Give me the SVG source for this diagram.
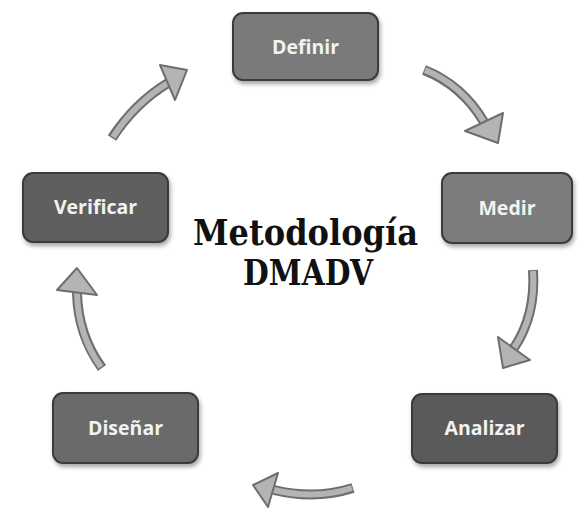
<svg xmlns="http://www.w3.org/2000/svg" width="579" height="508" viewBox="0 0 579 508">
  <defs>
    <filter id="shadow" x="-10%" y="-10%" width="125%" height="140%">
      <feDropShadow dx="1.5" dy="3" stdDeviation="2" flood-color="#000" flood-opacity="0.35"/>
    </filter>
  </defs>
  <style>
    .box { stroke: #3a3a3a; stroke-width: 2; filter: url(#shadow); }
    .label { font-family: "Open Sans", "Liberation Sans", sans-serif; font-weight: 700; font-size: 19.5px; fill: #f2f2f2; text-anchor: middle; }
    .title { font-family: "DejaVu Serif", "Liberation Serif", serif; font-weight: 700; font-size: 35px; fill: #111; text-anchor: middle; }
    .shaft-outline { fill: none; stroke: #6e6e6e; stroke-width: 10; stroke-linecap: butt; }
    .shaft { fill: none; stroke: #b4b4b4; stroke-width: 6; stroke-linecap: butt; }
    .head { fill: #b4b4b4; stroke: #6e6e6e; stroke-width: 2; stroke-linejoin: round; }
  </style>
  <rect width="579" height="508" fill="#ffffff"/>

  <!-- connectors: curved block arrows running clockwise -->
  <g id="connectors">
    <g id="definir-medir">
      <path class="shaft-outline" d="M424,70 Q462,85 484,122"/>
      <path class="shaft" d="M425,70 Q462,85 484,122"/>
      <polygon class="head" points="465,131 503,113 498,143"/>
    </g>
    <g id="medir-analizar">
      <path class="shaft-outline" d="M533,270 Q536,315 514,348"/>
      <path class="shaft" d="M533,271 Q536,315 514,348"/>
      <polygon class="head" points="498,337 530,360 503,368"/>
    </g>
    <g id="analizar-disenar">
      <path class="shaft-outline" d="M353,488 Q315,500 274,490"/>
      <path class="shaft" d="M352,488 Q315,500 274,490"/>
      <polygon class="head" points="278,473 268,507 253,485"/>
    </g>
    <g id="disenar-verificar">
      <path class="shaft-outline" d="M102,368 Q78,335 77,293"/>
      <path class="shaft" d="M101,367 Q78,335 77,293"/>
      <polygon class="head" points="57,290 97,295 77,268"/>
    </g>
    <g id="verificar-definir">
      <path class="shaft-outline" d="M112,138 Q135,103 168,83"/>
      <path class="shaft" d="M113,137 Q135,103 168,83"/>
      <polygon class="head" points="160,65 175,100 187,70"/>
    </g>
  </g>

  <g id="definir">
    <rect class="box" x="233" y="13" width="145" height="67" rx="10" fill="#7a7a7a"/>
    <text class="label" x="305.5" y="54">Definir</text>
  </g>
  <g id="medir">
    <rect class="box" x="442" y="173" width="130" height="70" rx="10" fill="#7c7c7c"/>
    <text class="label" x="507" y="215">Medir</text>
  </g>
  <g id="analizar">
    <rect class="box" x="412" y="394" width="145" height="69" rx="10" fill="#5a5a5a"/>
    <text class="label" x="484.5" y="435">Analizar</text>
  </g>
  <g id="disenar">
    <rect class="box" x="53" y="393" width="145" height="70" rx="10" fill="#6a6a6a"/>
    <text class="label" x="125.5" y="435">Diseñar</text>
  </g>
  <g id="verificar">
    <rect class="box" x="23" y="173" width="145" height="69" rx="10" fill="#5e5e5e"/>
    <text class="label" x="95.5" y="214">Verificar</text>
  </g>

  <g id="title">
    <text class="title" x="305.5" y="245" textLength="225" lengthAdjust="spacingAndGlyphs">Metodología</text>
    <text class="title" x="308" y="285" textLength="130" lengthAdjust="spacingAndGlyphs">DMADV</text>
  </g>
</svg>
